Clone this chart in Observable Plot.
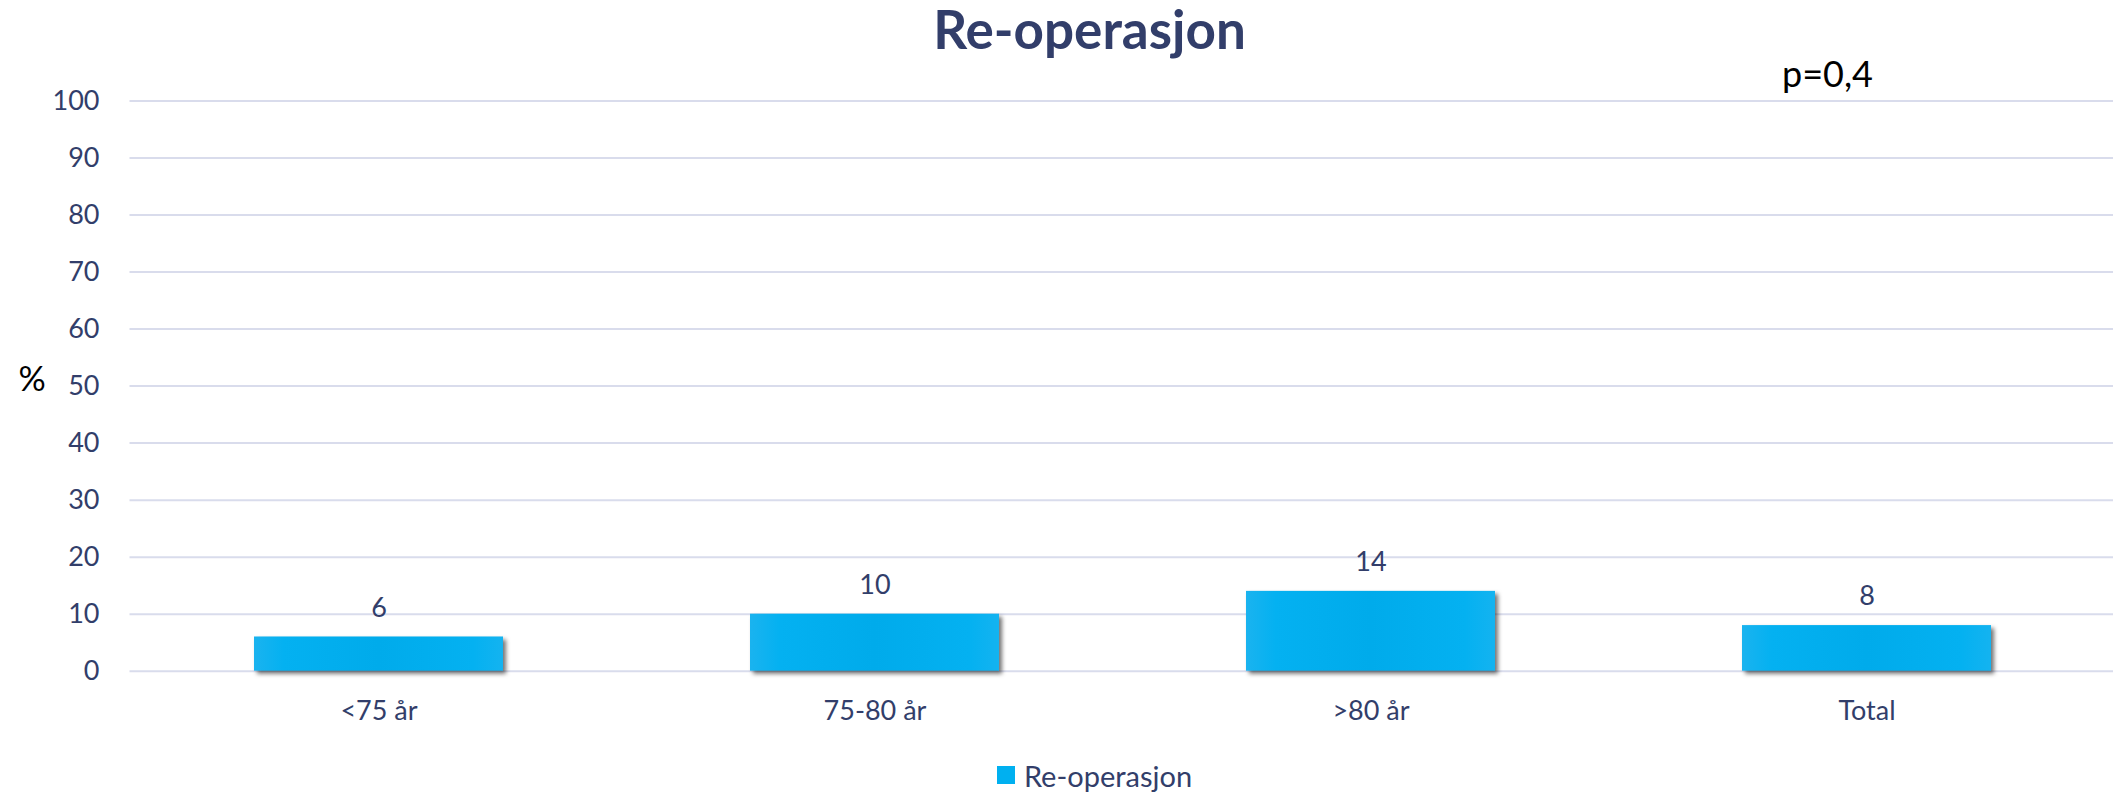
<!DOCTYPE html>
<html>
<head>
<meta charset="utf-8">
<script src="https://cdn.jsdelivr.net/npm/d3@7"></script>
<script src="https://cdn.jsdelivr.net/npm/@observablehq/plot@0.6"></script>
<style>
  html, body { margin: 0; padding: 0; background: #fff; }
  body { width: 2113px; height: 792px; overflow: hidden; font-family: Lato, "Open Sans", sans-serif; }
  #title { height: 62px; line-height: 57px; text-align: center; font-weight: bold; font-size: 53px; color: #323e6a; padding-left: 66px; box-sizing: border-box; }
  #chart svg { display: block; }
  .bars rect { filter: drop-shadow(3px 3px 2px rgba(0,0,0,0.55)); }
  #legend { height: 50px; box-sizing: border-box; padding-top: 16px; display: flex; justify-content: center; align-items: center; padding-left: 76px; }
  #legend .item { display: flex; align-items: center; height: 34px; font-size: 29px; color: #323e6a; }
  #legend .sw { width: 18px; height: 18px; margin-right: 9px; }
</style>
</head>
<body>
<div id="title"></div>
<div id="chart"></div>
<div id="legend"></div>
<script>
const titleText = "Re-operasjon";
const categories = ["<75 år", "75-80 år", ">80 år", "Total"];
const values = [6, 10, 14, 8];
const seriesName = "Re-operasjon";
const yTicks = [0, 10, 20, 30, 40, 50, 60, 70, 80, 90, 100];
const pValueText = "p=0,4";
const yUnit = "%";

const navy = "#323e6a";
const barColor = "#00B0F0";

const data = categories.map((c, i) => ({category: c, value: values[i]}));

document.getElementById("title").textContent = titleText;

const W = 2113, H = 680;
const plot = Plot.plot({
  width: W,
  height: H,
  marginLeft: 129.5,
  marginRight: 0,
  marginTop: 38.5,
  marginBottom: 71.3,
  style: {fontFamily: "Lato, 'Open Sans', sans-serif", color: navy, background: "#fff", overflow: "visible"},
  x: {domain: categories, range: [129.5, 2116.5], paddingInner: 0.497, paddingOuter: 0.2485},
  y: {domain: [0, 100]},
  marks: [
    Plot.ruleY(yTicks, {stroke: "#d9dcec", strokeWidth: 2}),
    Plot.barY(data, {x: "category", y: "value", fill: "url(#barGrad)", className: "bars"}),
    Plot.text(data, {x: "category", y: "value", text: d => String(d.value), dy: -29, fontSize: 27, fill: navy}),
    Plot.axisY({ticks: yTicks, tickSize: 0, tickPadding: 30.5, fontSize: 27, label: null, fill: navy}),
    Plot.axisX({tickSize: 0, tickPadding: 30, fontSize: 27, label: null, fill: navy}),
    Plot.text([yUnit], {frameAnchor: "left", lineAnchor: "middle", dx: -98, dy: -6, fontSize: 34, fill: "#000", textAnchor: "middle"}),
    Plot.text([pValueText], {frameAnchor: "top-right", lineAnchor: "middle", dx: -286, dy: -26, fontSize: 36, fill: "#000", textAnchor: "middle"})
  ]
});

const svg = d3.select(plot);
const defs = svg.insert("defs", ":first-child");
const grad = defs.append("linearGradient").attr("id", "barGrad").attr("x1", "0").attr("x2", "1").attr("y1", "0").attr("y2", "0");
grad.append("stop").attr("offset", "0%").attr("stop-color", "#1ab3ef");
grad.append("stop").attr("offset", "12%").attr("stop-color", "#04b1f1");
grad.append("stop").attr("offset", "50%").attr("stop-color", "#00abeb");
grad.append("stop").attr("offset", "88%").attr("stop-color", "#04b1f1");
grad.append("stop").attr("offset", "100%").attr("stop-color", "#14b3f0");

document.getElementById("chart").appendChild(plot);

const legend = document.getElementById("legend");
const item = document.createElement("div");
item.className = "item";
const sw = document.createElement("span");
sw.className = "sw";
sw.style.background = barColor;
const lab = document.createElement("span");
lab.textContent = seriesName;
item.appendChild(sw);
item.appendChild(lab);
legend.appendChild(item);
</script>
</body>
</html>
